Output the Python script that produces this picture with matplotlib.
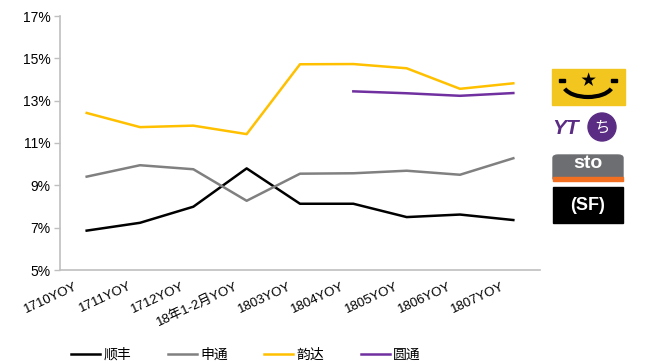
import matplotlib.pyplot as plt
import matplotlib.transforms as mtransforms
from matplotlib.patches import Rectangle, FancyBboxPatch, Ellipse, Arc

plt.rcParams['font.family'] = ['Liberation Sans', 'Noto Sans CJK SC', 'DejaVu Sans']

categories = ['1710YOY', '1711YOY', '1712YOY', '18年1-2月YOY', '1803YOY',
              '1804YOY', '1805YOY', '1806YOY', '1807YOY']
sf = [6.86, 7.23, 7.99, 9.80, 8.13, 8.13, 7.50, 7.62, 7.36]
sto = [9.41, 9.95, 9.76, 8.27, 9.55, 9.57, 9.69, 9.50, 10.28]
yunda = [12.42, 11.75, 11.82, 11.42, 14.72, 14.73, 14.53, 13.56, 13.82]
yto_idx = [5, 6, 7, 8]
yto = [13.44, 13.35, 13.23, 13.36]

W, H = 646, 363
fig = plt.figure(figsize=(W / 100, H / 100), dpi=100)
ax = fig.add_axes([60 / W, 1 - 270 / H, 480 / W, 254 / H])

x = list(range(len(categories)))
ax.plot(x, sf, color='black', lw=1.8, label='顺丰')
ax.plot(x, sto, color='#808080', lw=1.8, label='申通')
ax.plot(x, yunda, color='#FFC000', lw=1.8, label='韵达')
ax.plot(yto_idx, yto, color='#7030A0', lw=1.8, label='圆通')

ax.set_xlim(-0.5, len(categories) - 0.5)
ax.set_ylim(5, 17)
ax.set_yticks(range(5, 18, 2))
ax.set_yticklabels([f'{v}%' for v in range(5, 18, 2)], fontsize=10)
ax.set_xticks(x)
ax.set_xticklabels(categories, fontsize=9.5, rotation=25, ha='right', rotation_mode='anchor')
ax.tick_params(axis='x', length=0, pad=6)
ax.tick_params(axis='y', length=4, color='#BFBFBF', width=1, pad=3)

# shift the rotated labels a bit to the left, like the original
shift = mtransforms.ScaledTranslation(-12 / 100, -2 / 100, fig.dpi_scale_trans)
for lab in ax.get_xticklabels():
    lab.set_transform(lab.get_transform() + shift)

for s in ['top', 'right']:
    ax.spines[s].set_visible(False)
ax.spines['left'].set_color('#BFBFBF')
ax.spines['bottom'].set_color('#BFBFBF')
ax.spines['left'].set_linewidth(1.2)
ax.spines['bottom'].set_linewidth(1.2)

fig.legend(loc='center', bbox_to_anchor=(246 / W, 1 - 355 / H), ncol=4, frameon=False,
           fontsize=10, handlelength=2.1, columnspacing=2.6, handletextpad=0.25)


# logos drawn in pixel coordinates of the figure
def fx(px):
    return px / W


def fy(py):
    return 1 - py / H


# yunda
fig.patches.append(Rectangle((fx(552), fy(105)), fx(73), 36 / H, transform=fig.transFigure,
                             color='#F2C61F', zorder=3))
fig.text(fx(588), fy(81), '★', fontsize=11, ha='center', va='center', color='black', zorder=4)
fig.patches.append(Rectangle((fx(559), fy(82)), fx(6), 3 / H, transform=fig.transFigure,
                             color='black', zorder=4))
fig.patches.append(Rectangle((fx(611), fy(82)), fx(6), 3 / H, transform=fig.transFigure,
                             color='black', zorder=4))
fig.patches.append(Arc((fx(588), fy(84)), fx(50), 26 / H, theta1=200, theta2=340,
                       transform=fig.transFigure, color='black', lw=3, zorder=4))

# yto
fig.text(fx(552), fy(128), 'YT', fontsize=15, fontweight='bold', style='italic',
         color='#5B2C83', ha='left', va='center', zorder=4)
fig.patches.append(Ellipse((fx(602), fy(127)), fx(28), 28 / H, transform=fig.transFigure,
                           color='#5B2C83', zorder=3))
fig.text(fx(602), fy(128), 'ち', fontsize=11, color='white', ha='center', va='center', zorder=4)

# sto
fig.patches.append(FancyBboxPatch((fx(553), fy(181)), fx(70), 26 / H,
                                  boxstyle='round,pad=0,rounding_size=0.008',
                                  transform=fig.transFigure, color='#6D6E71', zorder=3))
fig.patches.append(Rectangle((fx(553), fy(181)), fx(70), 4 / H, transform=fig.transFigure,
                             color='#F26F21', zorder=4))
fig.text(fx(588), fy(164), 'sto', fontsize=14, fontweight='bold', color='white',
         ha='center', va='center', zorder=5)

# sf
fig.patches.append(Rectangle((fx(553), fy(223)), fx(70), 36 / H, transform=fig.transFigure,
                             color='black', zorder=3))
fig.text(fx(588), fy(205), '(SF)', fontsize=13, fontweight='bold', color='white',
         ha='center', va='center', zorder=4)

fig.savefig('out.png', dpi=100)
